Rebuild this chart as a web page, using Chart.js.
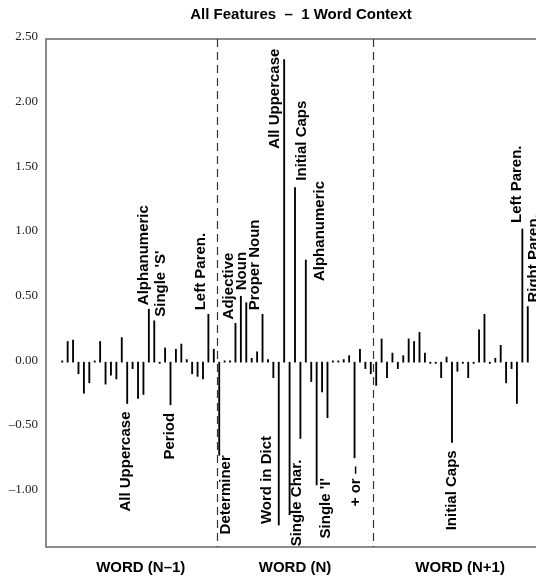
<!DOCTYPE html>
<html>
<head>
<meta charset="utf-8">
<script src="https://cdn.jsdelivr.net/npm/chart.js@4/dist/chart.umd.min.js"></script>
<style>
  html, body { margin: 0; padding: 0; overflow: hidden; background: #fff; }
  canvas { display: block; }
</style>
</head>
<body>
<canvas id="myChart" width="560" height="580"></canvas>
<script>
const chartTitle = "All Features  \u2013  1 Word Context"
const sections = ["WORD (N\u20131)", "WORD (N)", "WORD (N+1)"]
const yTicks = [-1, -0.5, 0, 0.5, 1, 1.5, 2, 2.5]

// one weight per feature, left to right, for each word position
const wordPrev = [0.01, 0.16, 0.17, -0.09, -0.24, -0.16, 0.01, 0.16, -0.17, -0.10,
    -0.13, 0.19, -0.32, -0.05, -0.28, -0.25, 0.41, 0.32, -0.01, 0.11,
    -0.33, 0.10, 0.14, 0.02, -0.09, -0.11, -0.13, 0.37, 0.10]
const wordCur = [-0.72, 0.01, 0.01, 0.30, 0.51, 0.46, 0.03, 0.08, 0.37, 0.02,
    -0.12, -1.26, 2.34, -1.18, 1.35, -0.59, 0.79, -0.15, -0.95, -0.23,
    -0.43, 0.01, 0.01, 0.02, 0.05, -0.74, 0.10, -0.05, -0.09]
const wordNext = [-0.18, 0.18, -0.12, 0.07, -0.05, 0.05, 0.18, 0.16, 0.23, 0.07,
    -0.01, -0.01, -0.12, 0.04, -0.62, -0.07, -0.01, -0.12, -0.01, 0.25,
    0.37, -0.01, 0.03, 0.13, -0.16, -0.05, -0.32, 1.03, 0.43]

// names of the features that are labelled (index inside the section)
const prevNames = { 12: "All Uppercase", 16: "Alphanumeric", 17: "Single 'S'", 20: "Period", 27: "Left Paren." }
const curNames = { 0: "Determiner", 3: "Adjective", 4: "Noun", 8: "Proper Noun", 11: "Word in Dict",
    12: "All Uppercase", 13: "Single Char.", 14: "Initial Caps", 16: "Alphanumeric",
    18: "Single 'I'", 25: "+ or \u2013" }
const nextNames = { 14: "Initial Caps", 27: "Left Paren.", 28: "Right Paren." }

// label nudges [dx, dy] in px, layout only
const nudges = [
    { 12: [-1, 0], 16: [-5, 0], 17: [7, 0], 20: [-1, 0], 27: [-8, 0] },
    { 0: [7, -8], 3: [-7, 0], 4: [1, -2], 8: [-8, 0], 11: [-11.5, -97], 12: [-9.5, 93],
      13: [7.5, -63], 14: [6.5, -3], 16: [14, 25], 18: [9.5, -15], 25: [1, 0] },
    { 14: [-0.5, 0], 27: [-5.5, -2], 28: [6, 0] }
]
const sectionLabelAt = [17.5, 46, 76.5]

const pad = 3
const perSection = wordPrev.length
const allNames = [prevNames, curNames, nextNames]
const values = [...Array(pad).fill(null), ...wordPrev, ...wordCur, ...wordNext, ...Array(pad).fill(null)]
const slots = values.map((_, i) => i)

const labelFont = "bold 15px 'Liberation Sans', Arial, sans-serif"

const decor = {
    id: "decor",
    afterDatasetsDraw(chart) {
        const { ctx, chartArea: a, scales: { x } } = chart
        const meta = chart.getDatasetMeta(0)
        ctx.save()

        // frame
        ctx.strokeStyle = "#666"
        ctx.lineWidth = 1.5
        ctx.strokeRect(a.left, a.top, a.right - a.left, a.bottom - a.top)

        // section separators
        ctx.strokeStyle = "#333"
        ctx.lineWidth = 1.2
        ctx.setLineDash([8, 5])
        for (let k = 1; k < sections.length; k++) {
            const px = Math.round(x.getPixelForValue(pad + perSection * k - 0.5)) + 0.5
            ctx.beginPath()
            ctx.moveTo(px, a.top)
            ctx.lineTo(px, a.bottom)
            ctx.stroke()
        }
        ctx.setLineDash([])

        // feature labels
        ctx.fillStyle = "#000"
        ctx.font = labelFont
        ctx.textBaseline = "middle"
        allNames.forEach((names, s) => {
            Object.entries(names).forEach(([i, text]) => {
                const slot = pad + s * perSection + Number(i)
                const bar = meta.data[slot]
                const [dx, dy] = nudges[s][i] || [0, 0]
                ctx.save()
                ctx.translate(bar.x + dx, bar.y + dy)
                ctx.rotate(-Math.PI / 2)
                if (values[slot] > 0) {
                    ctx.textAlign = "left"
                    ctx.fillText(text, 4, 0)
                } else {
                    ctx.textAlign = "right"
                    ctx.fillText(text, -8, 0)
                }
                ctx.restore()
            })
        })

        // section names under the plot
        ctx.textAlign = "center"
        sections.forEach((name, s) => {
            ctx.fillText(name, x.getPixelForValue(sectionLabelAt[s]), 568)
        })

        // title
        ctx.fillText(chartTitle, (a.left + a.right) / 2 + 6, 15)
        ctx.restore()
    }
}

const chart = new Chart(document.getElementById("myChart"), {
    type: "bar",
    data: {
        labels: slots,
        datasets: [{
            data: values,
            backgroundColor: "#000",
            barThickness: 1.2,
            borderWidth: 0
        }]
    },
    options: {
        responsive: false,
        animation: false,
        devicePixelRatio: 1,
        layout: { padding: { top: 39, right: 16, left: 0, bottom: 0 } },
        plugins: {
            legend: { display: false },
            tooltip: { enabled: false },
            title: { display: false }
        },
        scales: {
            x: {
                type: "category",
                offset: false,
                grid: { display: false, drawTicks: false },
                border: { display: false },
                ticks: { display: false },
                afterFit(s) { s.height = 33 }
            },
            y: {
                min: -1.43,
                max: 2.5,
                afterBuildTicks(s) { s.ticks = yTicks.map(value => ({ value })) },
                afterFit(s) { s.width = 46 },
                grid: { display: false, drawTicks: false },
                border: { display: false },
                ticks: {
                    padding: 8,
                    labelOffset: -2,
                    color: "#222",
                    font: { family: "'Liberation Serif', 'Times New Roman', serif", size: 13 },
                    callback: v => v.toFixed(2).replace("-", "\u2013")
                }
            }
        }
    },
    plugins: [decor]
})
</script>
</body>
</html>
